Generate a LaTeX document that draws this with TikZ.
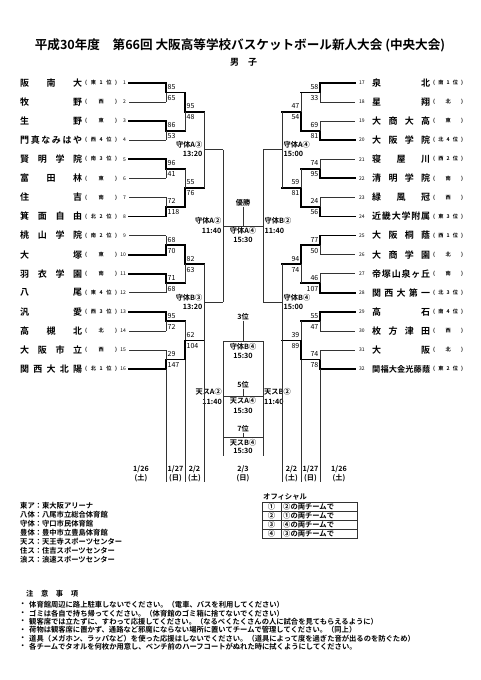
\documentclass[tikz,border=0pt]{standalone}
\usepackage{fontspec}
\setmainfont{Noto Sans CJK JP}[BoldFont={Noto Sans CJK JP Bold}]
\usetikzlibrary{calc}

% one bout: name, x of vertical, x of next round, y top, y bottom, winner (t/b/n), score side, top score, bottom score
\newcommand{\bout}[9]{%
  \coordinate (#1t) at (#2,#4);
  \coordinate (#1b) at (#2,#5);
  \coordinate (#1m) at (#2,{(#4+#5)/2});
  \coordinate (#1o) at (#3,{(#4+#5)/2});
  \if t#6
    \draw[wline] (#1t) -- (#1m) -- (#1o);
    \draw[lline] (#1m) -- (#1b);
  \fi
  \if b#6
    \draw[wline] (#1b) -- (#1m) -- (#1o);
    \draw[lline] (#1m) -- (#1t);
  \fi
  \if n#6
    \draw[lline] (#1t) -- (#1b) (#1m) -- (#1o);
  \else
    \node[score, #7, yshift=5.5pt] (#1s) at (#1m) {#8};
    \node[score, #7, yshift=-5.5pt] (#1u) at (#1m) {#9};
  \fi
}

\begin{document}
\begin{tikzpicture}[x=1pt, y=-1pt,
  wline/.style={line width=1.8pt, line cap=rect},
  lline/.style={line width=0.6pt, black!80},
  team/.style={inner sep=0pt, font=\bfseries\fontsize{9}{9}\selectfont},
  place/.style={inner sep=0pt, font=\bfseries\fontsize{5.2}{6}\selectfont},
  seed/.style={inner sep=0pt, font=\fontsize{5}{6}\selectfont},
  score/.style={inner sep=0pt, font=\fontsize{7}{7}\selectfont},
  lsc/.style={anchor=west, xshift=1.5pt},
  rsc/.style={anchor=east, xshift=-1.5pt},
  venue/.style={inner sep=0pt, font=\bfseries\fontsize{7.2}{8}\selectfont},
  note/.style={inner sep=0pt, anchor=west, font=\bfseries\fontsize{7.3}{8}\selectfont}]

\fill[white] (0,0) rectangle (481,680);
\useasboundingbox (0,0) rectangle (481,680);

% Title
\node[inner sep=0pt, font=\bfseries\fontsize{12.6}{13}\selectfont] (title) at (240,45) {平成30年度　第66回 大阪高等学校バスケットボール新人大会 (中央大会)};
\node[inner sep=0pt, font=\bfseries\fontsize{9}{9}\selectfont] (boys) at (243.5,62) {男\quad 子};

% Left teams
\foreach \i/\nm/\pl/\s in {1/{阪\hfill 南\hfill 大}/{東\hfill 1\hfill 位}/wline, 2/{牧\hfill 野}/西/lline,
  3/{生\hfill 野}/東/wline, 4/{門\hfill 真\hfill な\hfill み\hfill は\hfill や}/{西\hfill 4\hfill 位}/lline,
  5/{賢\hfill 明\hfill 学\hfill 院}/{南\hfill 3\hfill 位}/wline, 6/{富\hfill 田\hfill 林}/東/lline,
  7/{住\hfill 吉}/南/lline, 8/{箕\hfill 面\hfill 自\hfill 由}/{北\hfill 2\hfill 位}/wline,
  9/{桃\hfill 山\hfill 学\hfill 院}/{南\hfill 2\hfill 位}/lline, 10/{大\hfill 塚}/東/wline,
  11/{羽\hfill 衣\hfill 学\hfill 園}/南/wline, 12/{八\hfill 尾}/{東\hfill 4\hfill 位}/lline,
  13/{汎\hfill 愛}/{西\hfill 3\hfill 位}/wline, 14/{高\hfill 槻\hfill 北}/北/lline,
  15/{大\hfill 阪\hfill 市\hfill 立}/西/lline, 16/{関\hfill 西\hfill 大\hfill 北\hfill 陽}/{北\hfill 1\hfill 位}/wline}{
  \pgfmathsetmacro\yy{83+(\i-1)*19.07}
  \node[team, anchor=west] (name\i) at (20,\yy) {\makebox[62pt][s]{\nm}};
  \node[place, anchor=west] (pl\i) at (85,\yy) {\makebox[32pt][s]{(\hfill\pl\hfill)}};
  \node[seed, anchor=east] (num\i) at (126,\yy) {\i};
  \coordinate (a\i) at (129,\yy);
  \coordinate (b\i) at (166,\yy);
  \draw[\s] (a\i) -- (b\i);
}

% Right teams
\foreach \i/\nm/\pl/\s in {17/{泉\hfill 北}/{南\hfill 1\hfill 位}/wline, 18/{星\hfill 翔}/北/lline,
  19/{大\hfill 商\hfill 大\hfill 高}/東/lline, 20/{大\hfill 阪\hfill 学\hfill 院}/{北\hfill 4\hfill 位}/wline,
  21/{寝\hfill 屋\hfill 川}/{西\hfill 2\hfill 位}/lline, 22/{清\hfill 明\hfill 学\hfill 院}/南/wline,
  23/{緑\hfill 風\hfill 冠}/西/lline, 24/{近\hfill 畿\hfill 大\hfill 学\hfill 附\hfill 属}/{東\hfill 3\hfill 位}/wline,
  25/{大\hfill 阪\hfill 桐\hfill 蔭}/{西\hfill 1\hfill 位}/wline, 26/{大\hfill 商\hfill 学\hfill 園}/北/lline,
  27/{帝\hfill 塚\hfill 山\hfill 泉\hfill ヶ\hfill 丘}/南/lline, 28/{関\hfill 西\hfill 大\hfill 第\hfill 一}/{北\hfill 3\hfill 位}/wline,
  29/{高\hfill 石}/{南\hfill 4\hfill 位}/wline, 30/{枚\hfill 方\hfill 津\hfill 田}/西/lline,
  31/{大\hfill 阪}/北/lline, 32/{\fontsize{8.2}{9}\selectfont 関\hfill 福\hfill 大\hfill 金\hfill 光\hfill 藤\hfill 蔭}/{東\hfill 2\hfill 位}/wline}{
  \pgfmathsetmacro\yy{83+(\i-17)*19.07}
  \node[seed, anchor=west] (num\i) at (359,\yy) {\i};
  \node[team, anchor=west] (name\i) at (372,\yy) {\makebox[58pt][s]{\nm}};
  \node[place, anchor=west] (pl\i) at (433,\yy) {\makebox[30pt][s]{(\hfill\pl\hfill)}};
  \coordinate (a\i) at (355,\yy);
  \coordinate (b\i) at (320,\yy);
  \draw[\s] (b\i) -- (a\i);
}

% Left bracket
\foreach \k/\w/\st/\sb in {1/t/85/65, 2/t/86/53, 3/t/96/41, 4/b/72/118, 5/b/68/70, 6/t/71/68, 7/t/95/72, 8/b/29/147}{
  \pgfmathsetmacro\yt{83+(\k-1)*38.14}
  \pgfmathsetmacro\yb{\yt+19.07}
  \bout{la\k}{166}{185}{\yt}{\yb}{\w}{lsc}{\st}{\sb}
}
\foreach \k/\w/\st/\sb in {1/t/95/48, 2/b/55/76, 3/t/82/63, 4/b/62/104}{
  \pgfmathsetmacro\yt{92.535+(\k-1)*76.28}
  \pgfmathsetmacro\yb{\yt+38.14}
  \bout{lb\k}{185}{204}{\yt}{\yb}{\w}{lsc}{\st}{\sb}
}
\foreach \k in {1,2}{
  \pgfmathsetmacro\yt{111.605+(\k-1)*152.56}
  \pgfmathsetmacro\yb{\yt+76.28}
  \bout{lc\k}{204}{223}{\yt}{\yb}{n}{lsc}{}{}
}
\bout{ld}{223}{243}{149.745}{302.305}{n}{lsc}{}{}

% Right bracket
\foreach \k/\w/\st/\sb in {1/t/58/33, 2/b/69/81, 3/b/74/95, 4/b/24/56, 5/t/77/50, 6/b/46/107, 7/t/55/47, 8/b/74/78}{
  \pgfmathsetmacro\yt{83+(\k-1)*38.14}
  \pgfmathsetmacro\yb{\yt+19.07}
  \bout{ra\k}{320}{301}{\yt}{\yb}{\w}{rsc}{\st}{\sb}
}
\foreach \k/\w/\st/\sb in {1/b/47/54, 2/b/59/81, 3/t/94/74, 4/b/39/89}{
  \pgfmathsetmacro\yt{92.535+(\k-1)*76.28}
  \pgfmathsetmacro\yb{\yt+38.14}
  \bout{rb\k}{301}{282}{\yt}{\yb}{\w}{rsc}{\st}{\sb}
}
\foreach \k in {1,2}{
  \pgfmathsetmacro\yt{111.605+(\k-1)*152.56}
  \pgfmathsetmacro\yb{\yt+76.28}
  \bout{rc\k}{282}{263}{\yt}{\yb}{n}{rsc}{}{}
}
\bout{rd}{263}{243}{149.745}{302.305}{n}{rsc}{}{}

% Venues and times
\node[venue, anchor=east] (lc1v) at ($(lc1m)+(-1.5,-4.7)$) {守体A③};
\node[venue, anchor=east] (lc1h) at ($(lc1m)+(-1.5,4.5)$) {13:20};
\node[venue, anchor=east] (lc2v) at ($(lc2m)+(-1.5,-4.7)$) {守体B③};
\node[venue, anchor=east] (lc2h) at ($(lc2m)+(-1.5,4.5)$) {13:20};
\node[venue, anchor=west] (rc1v) at ($(rc1m)+(1.5,-4.7)$) {守体A④};
\node[venue, anchor=west] (rc1h) at ($(rc1m)+(1.5,4.5)$) {15:00};
\node[venue, anchor=west] (rc2v) at ($(rc2m)+(1.5,-4.7)$) {守体B④};
\node[venue, anchor=west] (rc2h) at ($(rc2m)+(1.5,4.5)$) {15:00};
\node[venue, anchor=east] (ldv) at ($(ldm)+(-1.5,-5)$) {守体A②};
\node[venue, anchor=east] (ldh) at ($(ldm)+(-1.5,5)$) {11:40};
\node[venue, anchor=west] (rdv) at ($(rdm)+(1.5,-5)$) {守体B②};
\node[venue, anchor=west] (rdh) at ($(rdm)+(1.5,5)$) {11:40};

% Final
\node[venue] (champ) at (243,203) {優勝};
\draw[lline] (champ) -- (ldo);
\node[venue] (finv) at (243,231) {守体A④};
\node[venue] (finh) at (243,240) {15:30};

% Third, fifth and seventh place
\node[venue] (third) at (243,317) {3位};
\coordinate (p3) at (243,341);
\coordinate (p3l) at (223,341);
\coordinate (p3r) at (263,341);
\node[venue] (g5) at (243,385) {5位};
\coordinate (p5) at (243,396);
\coordinate (p5l) at (223,396);
\coordinate (p5r) at (263,396);
\node[venue] (g7) at (243,429) {7位};
\coordinate (p7) at (243,437);
\coordinate (p7l) at (223,437);
\coordinate (p7r) at (263,437);
\coordinate (e7l) at (223,456);
\coordinate (e7r) at (263,456);
\draw[lline] (third) -- (p3) (g5) -- (p5) (g7) -- (p7);
\draw[lline] (p3l) -- (p3r) (p5l) -- (p5r) (p7l) -- (p7r);
\draw[lline] (p3l) -- (e7l) (p3r) -- (e7r);
\node[venue] (g3v) at (243,346.5) {守体B④};
\node[venue] (g3h) at (243,356) {15:30};
\node[venue, anchor=east, fill=white] (g5av) at (222,392) {天スA②};
\node[venue, anchor=east, fill=white] (g5ah) at (222,401.5) {11:40};
\node[venue, anchor=west, fill=white] (g5bv) at (264,392) {天スB②};
\node[venue, anchor=west, fill=white] (g5bh) at (264,401.5) {11:40};
\node[venue] (g5v) at (243,401) {天スA④};
\node[venue] (g5h) at (243,410.5) {15:30};
\node[venue] (g7v) at (243,443) {天スB④};
\node[venue] (g7h) at (243,450.5) {15:30};

% Day columns
\coordinate (dl1) at (166,482);
\coordinate (dl2) at (185,482);
\coordinate (dl3) at (204,482);
\coordinate (dr1) at (320,482);
\coordinate (dr2) at (301,482);
\coordinate (dr3) at (282,482);
\draw[lline] (la8b) -- (dl1) (lb4b) -- (dl2) (lc2b) -- (dl3);
\draw[lline] (ra8b) -- (dr1) (rb4b) -- (dr2) (rc2b) -- (dr3);
\foreach \x/\d/\w [count=\c] in {141/{1/26}/土, 175.5/{1/27}/日, 194.5/{2/2}/土, 243/{2/3}/日, 291.5/{2/2}/土, 310.5/{1/27}/日, 339/{1/26}/土}{
  \node[venue] (date\c) at (\x,469) {\d};
  \node[venue] (wday\c) at (\x,478.5) {(\w)};
}

% Halls
\foreach \t [count=\c] in {東ア：東大阪アリーナ, 八体：八尾市立総合体育館, 守体：守口市民体育館, 豊体：豊中市立豊島体育館, 天ス：天王寺スポーツセンター, 住ス：住吉スポーツセンター, 浪ス：浪速スポーツセンター}{
  \node[note] (hall\c) at (20,497+9*\c) {\t};
}

% Officials
\node[note] (offt) at (263,497) {オフィシャル};
\draw[lline] (262,502) rectangle (357,538);
\foreach \c/\a/\b in {1/①/②, 2/②/①, 3/③/④, 4/④/③}{
  \pgfmathsetmacro\yy{502+9*\c}
  \pgfmathsetmacro\yc{\yy-4.5}
  \ifnum\c<4 \draw[lline] (262,\yy) -- (357,\yy); \fi
  \node[note, anchor=center] (offa\c) at (271.5,\yc) {\a};
  \node[note] (offb\c) at (283,\yc) {\b の両チームで};
}
\draw[lline] (281,502) -- (281,538);

% Notes
\node[note] (nhead) at (26,594) {\makebox[52pt][s]{注\hfill 意\hfill 事\hfill 項}};
\foreach \t [count=\c] in {体育館周辺に路上駐車しないでください。（電車、バスを利用してください）,
  ゴミは各自で持ち帰ってください。（体育館のゴミ箱に捨てないでください）,
  観客席では立たずに、すわって応援してください。（なるべくたくさんの人に試合を見てもらえるように）,
  荷物は観客席に置かず、通路など邪魔にならない場所に置いてチームで管理してください。（同上）,
  道具（メガホン、ラッパなど）を使った応援はしないでください。（道具によって度を過ぎた音が出るのを防ぐため）,
  各チームでタオルを何枚か用意し、ベンチ前のハーフコートがぬれた時に拭くようにしてください。}{
  \pgfmathsetmacro\yy{596.6+8.4*\c}
  \node[note] (bul\c) at (19,\yy) {・};
  \node[note] (rule\c) at (29,\yy) {\t};
}
\end{tikzpicture}
\end{document}
